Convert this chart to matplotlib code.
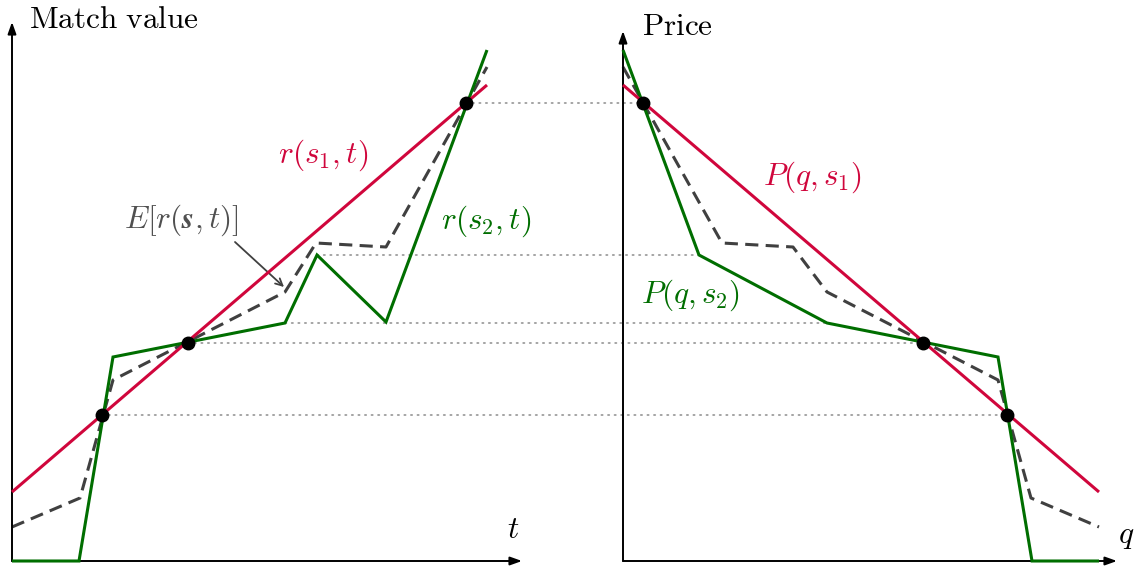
import matplotlib
matplotlib.use("Agg")
import matplotlib.pyplot as plt
from matplotlib.patches import ConnectionPatch

plt.rcParams['mathtext.fontset'] = 'cm'
plt.rcParams['font.family'] = ['DejaVu Serif']

# ---------------- data ----------------
# Left panel: match value r vs. type t
t_red = [0.0, 4.75]
r_red = [0.69, 4.76]
t_green = [0.0, 0.67, 1.01, 2.73, 3.05, 3.74, 4.75]
r_green = [0.0, 0.0, 2.04, 2.38, 3.06, 2.39, 5.11]
t_exp = [0.0, 0.68, 1.01, 2.73, 3.04, 3.74, 4.75]
r_exp = [0.34, 0.63, 1.81, 2.69, 3.18, 3.14, 4.94]
t_dots = [0.90, 1.76, 4.54]
r_dots = [1.46, 2.18, 4.58]

# Right panel: price P vs. quantity q
q_red = [0.0, 4.76]
p_red = [4.76, 0.69]
q_green = [0.0, 0.76, 2.04, 3.75, 4.09, 4.76]
p_green = [5.11, 3.06, 2.38, 2.04, 0.0, 0.0]
q_exp = [0.0, 0.99, 1.70, 2.04, 3.75, 4.08, 4.76]
p_exp = [4.94, 3.18, 3.14, 2.69, 1.81, 0.63, 0.34]
q_dots = [0.20, 3.00, 3.84]
p_dots = [4.58, 2.18, 1.46]

# dotted connectors: (t, value) on left  ->  (q, value) on right
conn_t = [4.54, 3.05, 2.73, 1.76, 0.90]
conn_q = [0.20, 0.76, 2.04, 3.00, 3.84]
conn_v = [4.58, 3.06, 2.38, 2.18, 1.46]

RED = '#d0063c'
GREEN = '#006e00'
DGRAY = '#404040'

W, H = 1139, 567
fig = plt.figure(figsize=(W / 100, H / 100), dpi=100)


def frac(x, y):
    return x / W, 1 - y / H


axL = fig.add_axes([12 / W, 6 / H, (522 - 12) / W, 541 / H])
axR = fig.add_axes([623 / W, 6 / H, (1117 - 623) / W, 541 / H])
axL.set_xlim(0, 5.10)
axR.set_xlim(0, 4.94)
for ax in (axL, axR):
    ax.set_ylim(0, 5.41)
    ax.axis('off')

lw = 2.2
kw = dict(clip_on=False, solid_capstyle='butt', solid_joinstyle='miter')

# dotted connectors (drawn first, beneath everything)
for t, q, v in zip(conn_t, conn_q, conn_v):
    cp = ConnectionPatch(xyA=(t, v), coordsA=axL.transData,
                         xyB=(q, v), coordsB=axR.transData,
                         color='#8c8c8c', lw=1.1, linestyle=(0, (1, 3.3)),
                         zorder=-1)
    fig.add_artist(cp)

# left panel
axL.plot(t_exp, r_exp, color=DGRAY, lw=lw, dashes=(4.3, 2.4), zorder=3, **kw)
axL.plot(t_green, r_green, color=GREEN, lw=lw, zorder=4, **kw)
axL.plot(t_red, r_red, color=RED, lw=lw, zorder=5, **kw)
axL.plot(t_dots, r_dots, 'o', color='black', ms=9, zorder=6, clip_on=False)

# right panel
axR.plot(q_exp, p_exp, color=DGRAY, lw=lw, dashes=(4.3, 2.4), zorder=3, **kw)
axR.plot(q_green, p_green, color=GREEN, lw=lw, zorder=4, **kw)
axR.plot(q_red, p_red, color=RED, lw=lw, zorder=5, **kw)
axR.plot(q_dots, p_dots, 'o', color='black', ms=9, zorder=6, clip_on=False)

# axis arrows
arrow = dict(arrowstyle='-|>,head_length=0.7,head_width=0.25', color='black',
             lw=1.4, shrinkA=0, shrinkB=0)
axL.annotate('', xy=(1, 0), xytext=(0, 0), xycoords='axes fraction',
             arrowprops=arrow)
axL.annotate('', xy=(0, (561 - 22) / 541), xytext=(0, 0),
             xycoords='axes fraction', arrowprops=arrow)
axR.annotate('', xy=(1, 0), xytext=(0, 0), xycoords='axes fraction',
             arrowprops=arrow)
axR.annotate('', xy=(0, (561 - 31) / 541), xytext=(0, 0),
             xycoords='axes fraction', arrowprops=arrow)

FS = 22.5
# axis labels
fig.text(*frac(29, 28), r'$\mathrm{Match\ value}$', fontsize=FS,
         ha='left', va='baseline')
fig.text(*frac(642, 35), r'$\mathrm{Price}$', fontsize=FS,
         ha='left', va='baseline')
fig.text(*frac(513, 538), r'$t$', fontsize=FS, ha='center', va='baseline')
fig.text(*frac(1126, 543), r'$q$', fontsize=FS, ha='center', va='baseline')

# curve labels
fig.text(*frac(323, 155), r'$r(s_1,t)$', fontsize=FS, color=RED,
         ha='center', va='center')
fig.text(*frac(486, 221), r'$r(s_2,t)$', fontsize=FS, color=GREEN,
         ha='center', va='center')
fig.text(*frac(812, 177), r'$P(q,s_1)$', fontsize=FS, color=RED,
         ha='center', va='center')
fig.text(*frac(690, 295), r'$P(q,s_2)$', fontsize=FS, color=GREEN,
         ha='center', va='center')

# expected-value label with a pointer
fig.text(*frac(181, 220), r'$E[r(\boldsymbol{s},t)]$', fontsize=FS,
         color='#505050', ha='center', va='center')
axL.annotate('', xy=(2.72, 2.74), xycoords='data',
             xytext=frac(235, 242), textcoords='figure fraction',
             arrowprops=dict(arrowstyle='->,head_length=0.5,head_width=0.25',
                             color='#404040', lw=1.3, shrinkA=0, shrinkB=0))

fig.savefig('out.png', dpi=100)
